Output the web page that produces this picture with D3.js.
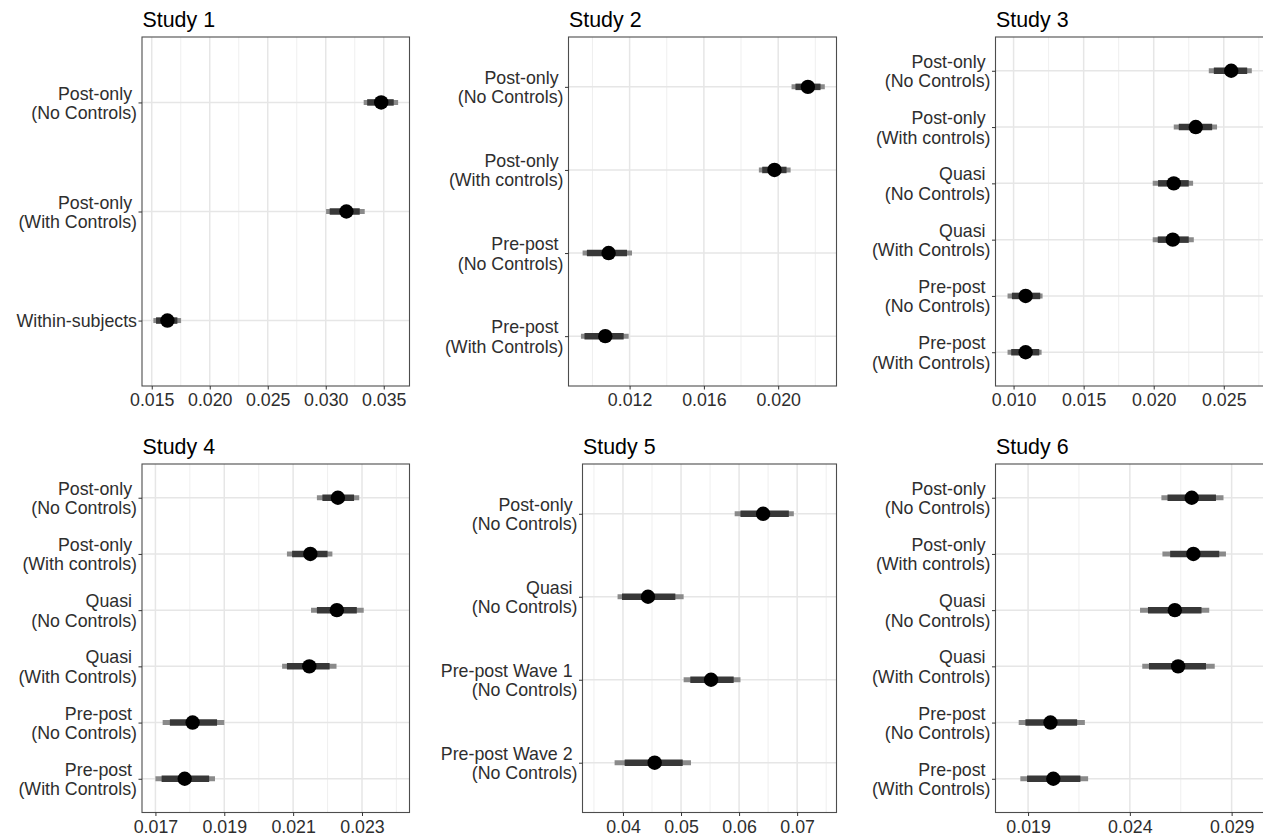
<!DOCTYPE html>
<html>
<head>
<meta charset="utf-8">
<script src="https://cdn.jsdelivr.net/npm/d3@7"></script>
<style>
  html, body { margin: 0; padding: 0; background: #fff; }
  svg { display: block; font-family: "Liberation Sans", Arial, sans-serif; }
  text { white-space: pre; }
</style>
</head>
<body>
<svg id="chart" width="1263" height="837"></svg>
<script>
// ---- data ----
var study1Labels = ["Post-only \n(No Controls)", "Post-only \n(With Controls)", "Within-subjects"];
var study1Est  = [0.03478, 0.03178, 0.01635];
var study1Lo66 = [0.03357, 0.03034, 0.01537];
var study1Hi66 = [0.03586, 0.03293, 0.01721];
var study1Lo95 = [0.03327, 0.03003, 0.01514];
var study1Hi95 = [0.03624, 0.03336, 0.01753];
var study1Ticks = [0.015, 0.020, 0.025, 0.030, 0.035];
var study1Minor = [0.0175, 0.0225, 0.0275, 0.0325];
var study1Domain = [0.01416, 0.03722];

var study2Labels = ["Post-only \n(No Controls)", "Post-only \n(With controls)", "Pre-post \n(No Controls)", "Pre-post \n(With Controls)"];
var study2Est  = [0.02160, 0.01980, 0.01087, 0.01069];
var study2Lo66 = [0.02093, 0.01914, 0.00970, 0.00957];
var study2Hi66 = [0.02228, 0.02045, 0.01186, 0.01168];
var study2Lo95 = [0.02072, 0.01896, 0.00947, 0.00938];
var study2Hi95 = [0.02251, 0.02067, 0.01213, 0.01195];
var study2Ticks = [0.012, 0.016, 0.020];
var study2Minor = [0.010, 0.014, 0.018, 0.022];
var study2Domain = [0.00871, 0.02314];

var study3Labels = ["Post-only \n(No Controls)", "Post-only \n(With controls)", "Quasi \n(No Controls)", "Quasi \n(With Controls)", "Pre-post \n(No Controls)", "Pre-post \n(With Controls)"];
var study3Est  = [0.02553, 0.02300, 0.02143, 0.02136, 0.01086, 0.01086];
var study3Lo66 = [0.02429, 0.02179, 0.02031, 0.02029, 0.00988, 0.00983];
var study3Hi66 = [0.02667, 0.02417, 0.02250, 0.02250, 0.01190, 0.01183];
var study3Lo95 = [0.02393, 0.02143, 0.01993, 0.01993, 0.00957, 0.00957];
var study3Hi95 = [0.02700, 0.02452, 0.02281, 0.02286, 0.01207, 0.01200];
var study3Ticks = [0.010, 0.015, 0.020, 0.025];
var study3Minor = [0.0125, 0.0175, 0.0225, 0.0275];
var study3Domain = [0.00871, 0.02787];

var study4Labels = ["Post-only \n(No Controls)", "Post-only \n(With controls)", "Quasi \n(No Controls)", "Quasi \n(With Controls)", "Pre-post \n(No Controls)", "Pre-post \n(With Controls)"];
var study4Est  = [0.02230, 0.02150, 0.02227, 0.02147, 0.01808, 0.01785];
var study4Lo66 = [0.02185, 0.02097, 0.02169, 0.02082, 0.01742, 0.01718];
var study4Hi66 = [0.02277, 0.02200, 0.02285, 0.02206, 0.01879, 0.01856];
var study4Lo95 = [0.02169, 0.02082, 0.02152, 0.02068, 0.01721, 0.01700];
var study4Hi95 = [0.02292, 0.02214, 0.02305, 0.02226, 0.01900, 0.01873];
var study4Ticks = [0.017, 0.019, 0.021, 0.023];
var study4Minor = [0.018, 0.020, 0.022, 0.024];
var study4Domain = [0.01661, 0.02438];

var study5Labels = ["Post-only \n(No Controls)", "Quasi \n(No Controls)", "Pre-post Wave 1 \n(No Controls)", "Pre-post Wave 2 \n(No Controls)"];
var study5Est  = [0.06414, 0.04431, 0.05517, 0.04546];
var study5Lo66 = [0.06024, 0.03983, 0.05160, 0.04029];
var study5Hi66 = [0.06857, 0.04902, 0.05907, 0.05029];
var study5Lo95 = [0.05924, 0.03907, 0.05045, 0.03856];
var study5Hi95 = [0.06943, 0.05045, 0.06024, 0.05172];
var study5Ticks = [0.04, 0.05, 0.06, 0.07];
var study5Minor = [0.035, 0.045, 0.055, 0.065, 0.075];
var study5Domain = [0.03303, 0.07678];

var study6Labels = ["Post-only \n(No Controls)", "Post-only \n(With controls)", "Quasi \n(No Controls)", "Quasi \n(With Controls)", "Pre-post \n(No Controls)", "Pre-post \n(With Controls)"];
var study6Est  = [0.02704, 0.02712, 0.02621, 0.02637, 0.02010, 0.02024];
var study6Lo66 = [0.02585, 0.02598, 0.02489, 0.02494, 0.01887, 0.01895];
var study6Hi66 = [0.02823, 0.02839, 0.02752, 0.02774, 0.02141, 0.02157];
var study6Lo95 = [0.02555, 0.02560, 0.02450, 0.02461, 0.01854, 0.01862];
var study6Hi95 = [0.02860, 0.02872, 0.02790, 0.02817, 0.02179, 0.02195];
var study6Ticks = [0.019, 0.024, 0.029];
var study6Minor = [0.0215, 0.0265];
var study6Domain = [0.0174, 0.03059];

// panel boxes on the page
var panels = [
    {title: "Study 1", left: 142,   right: 409.5, top: 37,  bottom: 386, fmt: ".3f",
     labels: study1Labels, est: study1Est, lo66: study1Lo66, hi66: study1Hi66, lo95: study1Lo95, hi95: study1Hi95,
     ticks: study1Ticks, minor: study1Minor, domain: study1Domain},
    {title: "Study 2", left: 568.5, right: 836.5, top: 37,  bottom: 386, fmt: ".3f",
     labels: study2Labels, est: study2Est, lo66: study2Lo66, hi66: study2Hi66, lo95: study2Lo95, hi95: study2Hi95,
     ticks: study2Ticks, minor: study2Minor, domain: study2Domain},
    {title: "Study 3", left: 995.5, right: 1264, top: 37,  bottom: 386, fmt: ".3f",
     labels: study3Labels, est: study3Est, lo66: study3Lo66, hi66: study3Hi66, lo95: study3Lo95, hi95: study3Hi95,
     ticks: study3Ticks, minor: study3Minor, domain: study3Domain},
    {title: "Study 4", left: 142,   right: 409.5, top: 464, bottom: 812.5, fmt: ".3f",
     labels: study4Labels, est: study4Est, lo66: study4Lo66, hi66: study4Hi66, lo95: study4Lo95, hi95: study4Hi95,
     ticks: study4Ticks, minor: study4Minor, domain: study4Domain},
    {title: "Study 5", left: 582.5, right: 836.5, top: 464, bottom: 812.5, fmt: ".2f",
     labels: study5Labels, est: study5Est, lo66: study5Lo66, hi66: study5Hi66, lo95: study5Lo95, hi95: study5Hi95,
     ticks: study5Ticks, minor: study5Minor, domain: study5Domain},
    {title: "Study 6", left: 995.5, right: 1264, top: 464, bottom: 812.5, fmt: ".3f",
     labels: study6Labels, est: study6Est, lo66: study6Lo66, hi66: study6Hi66, lo95: study6Lo95, hi95: study6Hi95,
     ticks: study6Ticks, minor: study6Minor, domain: study6Domain}
];

var svg = d3.select("#chart");
var TEXT_COL = "#2e2e2e";
var AXIS_FS = "17.8px";

panels.forEach(function (p) {
    var w = p.right - p.left, h = p.bottom - p.top;
    var g = svg.append("g").attr("transform", "translate(" + p.left + "," + p.top + ")");

    var x = d3.scaleLinear().domain(p.domain).range([0, w]);
    // ggplot-like discrete axis: 0.6 of a step on each side
    var y = d3.scalePoint().domain(p.labels).range([0, h]).padding(0.6);

    var rows = p.labels.map(function (lab, i) {
        return {label: lab, est: p.est[i], lo66: p.lo66[i], hi66: p.hi66[i], lo95: p.lo95[i], hi95: p.hi95[i]};
    });

    // grid: minor then major
    g.selectAll("line.minor").data(p.minor).enter().append("line")
        .attr("x1", function (d) { return x(d); }).attr("x2", function (d) { return x(d); })
        .attr("y1", 0).attr("y2", h)
        .attr("stroke", "#ebebeb").attr("stroke-width", 0.8);
    g.selectAll("line.vmajor").data(p.ticks).enter().append("line")
        .attr("x1", function (d) { return x(d); }).attr("x2", function (d) { return x(d); })
        .attr("y1", 0).attr("y2", h)
        .attr("stroke", "#e6e6e6").attr("stroke-width", 1.5);
    g.selectAll("line.hmajor").data(p.labels).enter().append("line")
        .attr("x1", 0).attr("x2", w)
        .attr("y1", function (d) { return y(d); }).attr("y2", function (d) { return y(d); })
        .attr("stroke", "#e6e6e6").attr("stroke-width", 1.5);

    // intervals: 95% (light) under 66% (dark)
    g.selectAll("line.ci95").data(rows).enter().append("line")
        .attr("x1", function (d) { return x(d.lo95); }).attr("x2", function (d) { return x(d.hi95); })
        .attr("y1", function (d) { return y(d.label); }).attr("y2", function (d) { return y(d.label); })
        .attr("stroke", "#8a8a8a").attr("stroke-width", 5);
    g.selectAll("line.ci66").data(rows).enter().append("line")
        .attr("x1", function (d) { return x(d.lo66); }).attr("x2", function (d) { return x(d.hi66); })
        .attr("y1", function (d) { return y(d.label); }).attr("y2", function (d) { return y(d.label); })
        .attr("stroke", "#383838").attr("stroke-width", 6.5);
    g.selectAll("circle").data(rows).enter().append("circle")
        .attr("cx", function (d) { return x(d.est); })
        .attr("cy", function (d) { return y(d.label); })
        .attr("r", 7.2)
        .attr("fill", "#000");

    // panel border
    g.append("rect").attr("x", 0).attr("y", 0).attr("width", w).attr("height", h)
        .attr("fill", "none").attr("stroke", "#4d4d4d").attr("stroke-width", 1.1);

    // x axis
    var xAxis = g.append("g").attr("transform", "translate(0," + h + ")")
        .call(d3.axisBottom(x).tickValues(p.ticks).tickFormat(d3.format(p.fmt)).tickSize(3.5).tickPadding(4));
    xAxis.select(".domain").remove();
    xAxis.selectAll(".tick line").attr("stroke", "#333");
    xAxis.selectAll(".tick text").attr("fill", TEXT_COL)
        .style("font-size", AXIS_FS).style("font-family", "Liberation Sans, Arial, sans-serif");

    // y axis with two-line labels
    var yAxis = g.append("g")
        .call(d3.axisLeft(y).tickSize(3.5).tickFormat(""));
    yAxis.select(".domain").remove();
    yAxis.selectAll(".tick line").attr("stroke", "#333");
    yAxis.selectAll(".tick").each(function (d) {
        var lines = d.split("\n");
        var t = d3.select(this).append("text")
            .attr("text-anchor", "end")
            .attr("fill", TEXT_COL)
            .style("font-size", AXIS_FS);
        var lh = 19.5, first = 6.3 - (lines.length - 1) * lh / 2;
        lines.forEach(function (ln, k) {
            t.append("tspan").attr("x", -5).attr("y", first + k * lh).text(ln);
        });
    });

    // title
    svg.append("text")
        .attr("x", p.left + 0.5)
        .attr("y", p.top - 10)
        .attr("fill", "#000")
        .style("font-size", "21.4px")
        .text(p.title);
});
</script>
</body>
</html>
